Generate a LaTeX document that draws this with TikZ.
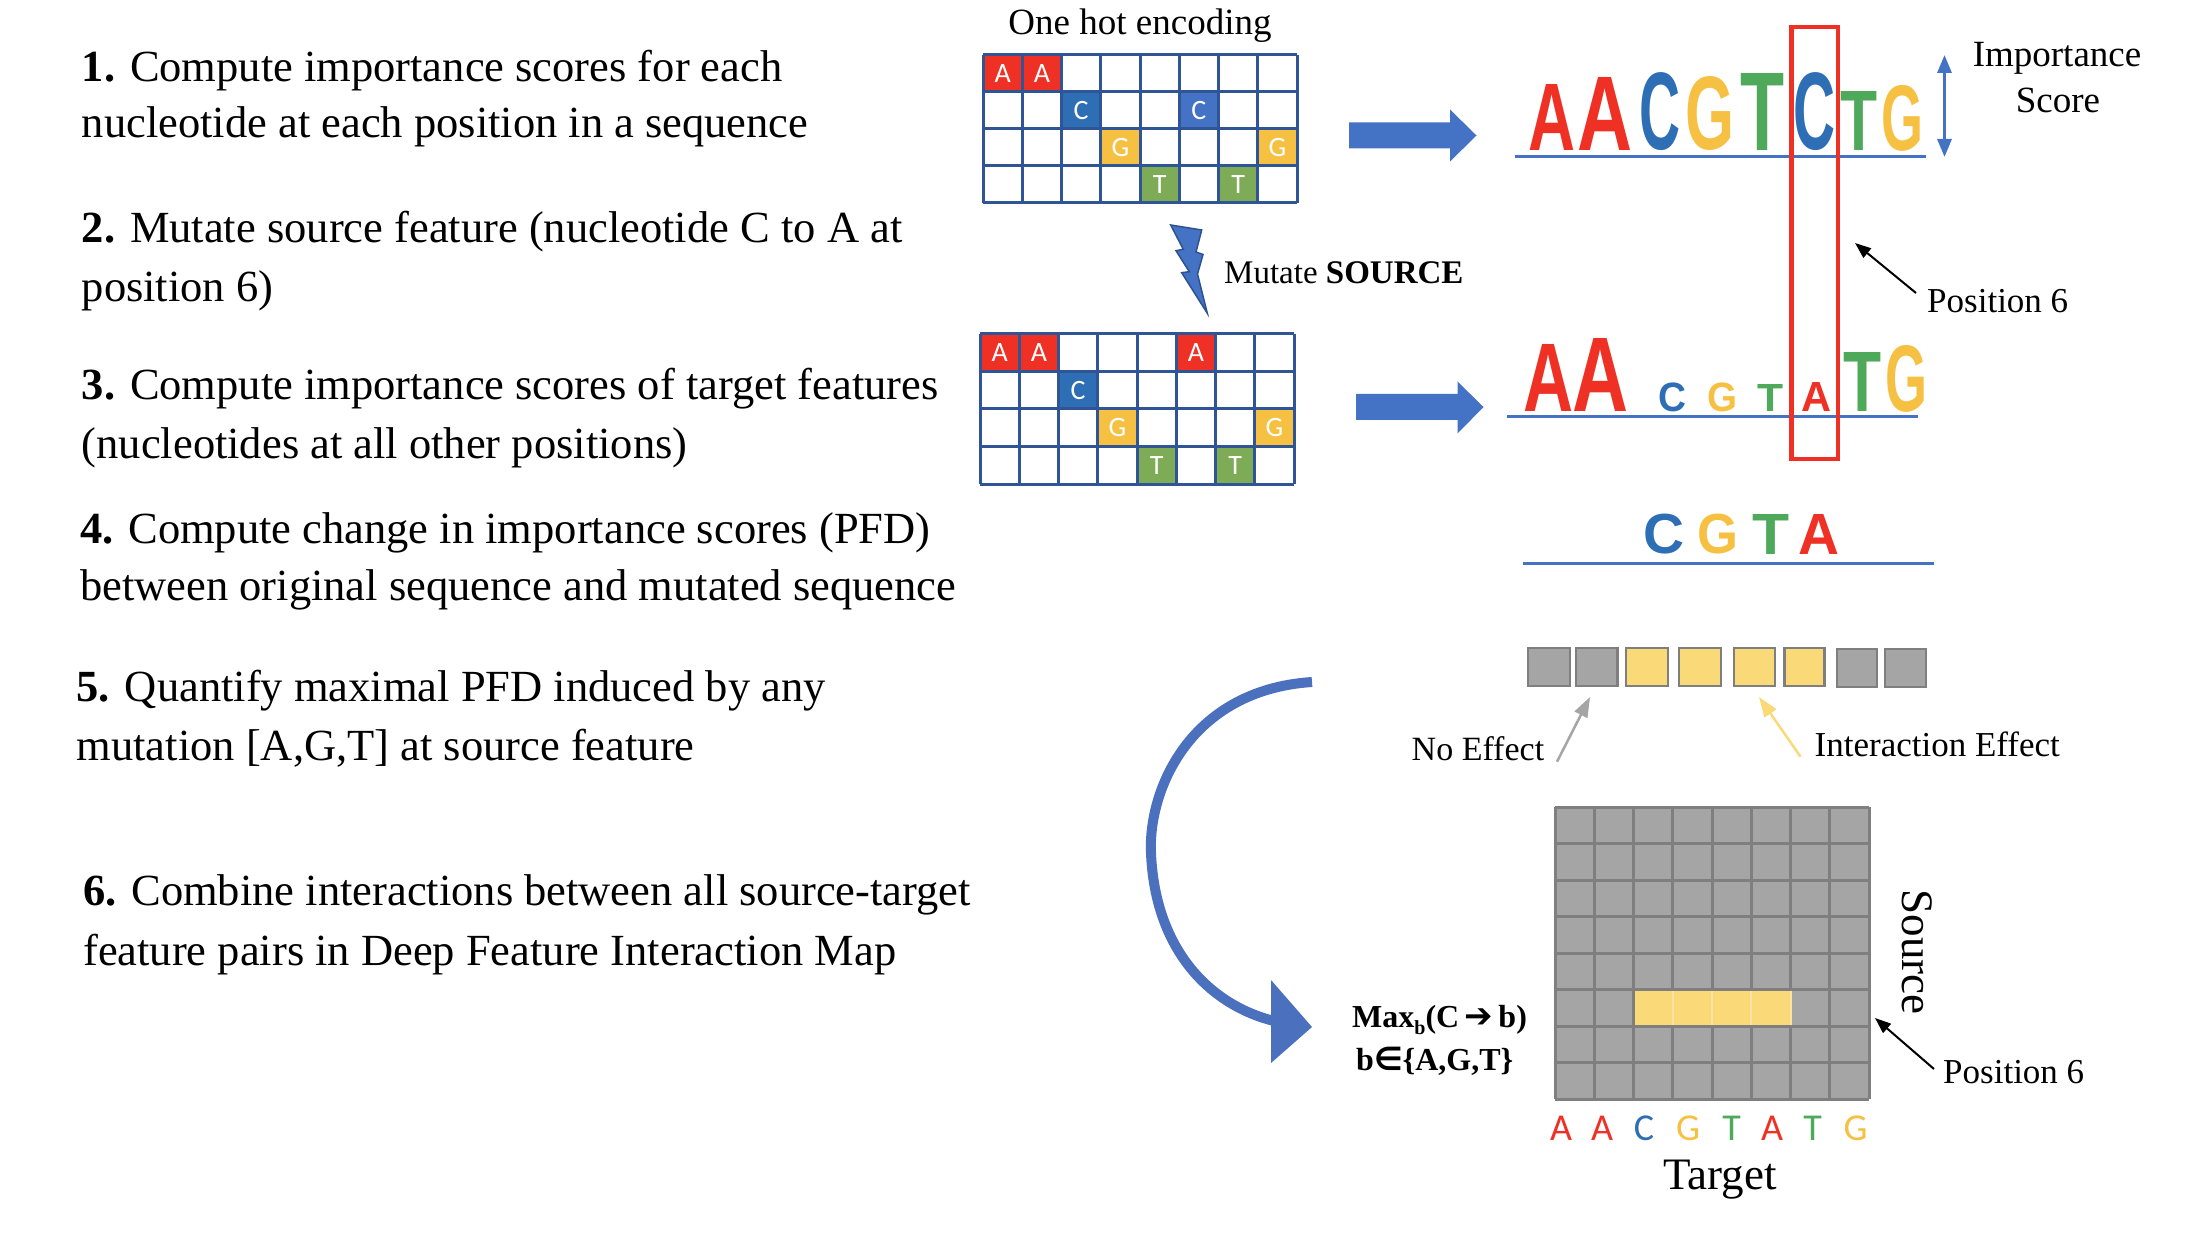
\documentclass[tikz,border=0pt]{standalone}
\usepackage{fontspec}
\usepackage{graphicx}
\setmainfont{Liberation Serif}
\newfontfamily\logofont{Liberation Sans}
\newfontfamily\cellfont{Carlito}
\newfontfamily\symfont{DejaVu Sans}
\usetikzlibrary{arrows.meta}
\definecolor{nA}{HTML}{EE3124}
\definecolor{nC}{HTML}{2E6EB5}
\definecolor{nCb}{HTML}{4472C4}
\definecolor{nG}{HTML}{F6C142}
\definecolor{nT}{HTML}{4EAA5A}
\definecolor{cT}{HTML}{7EAB55}
\definecolor{gridblue}{HTML}{2F5597}
\definecolor{arrowblue}{HTML}{4A70BE}
\definecolor{boltdark}{HTML}{2F528F}
\definecolor{heatgray}{HTML}{A5A5A5}
\definecolor{heatline}{HTML}{7F7F7F}
\definecolor{heatyellow}{HTML}{F9D978}
\definecolor{redbox}{HTML}{EE3124}
\newcommand\lgl[7]{\node[inner sep=0pt,outer sep=0pt,anchor=south west,text=#2] (#1) at (#4,#7) {\resizebox*{\dimexpr #5pt-#4pt\relax}{\dimexpr #7pt-#6pt\relax}{\logofont\bfseries #3}};}
\newcommand\ohcell[9]{\fill[#8] ({#2+(#6-1)*#4},{#3+(#7-1)*#5}) rectangle ({#2+#6*#4},{#3+#7*#5});
\node[cellletter] (#1) at ({#2+(#6-0.5)*#4},{#3+(#7-0.5)*#5}) {#9};}
\tikzset{
  cellletter/.style={inner sep=0pt,text=white,font=\cellfont\fontsize{28}{30}\selectfont},
  gl/.style={draw=gridblue,line width=3},
  hl/.style={draw=heatline,line width=3},
  lefttxt/.style={inner sep=0pt,anchor=base west,font=\fontsize{44.5}{57}\selectfont},
  smalltxt/.style={inner sep=0pt,font=\fontsize{35}{40}\selectfont},
  logoline/.style={draw=nCb,line width=3},
  ptr/.style={draw=black,line width=2,-{Triangle[length=16pt,width=12pt]}},
  blockarrow/.style={fill=nCb},
  botletter/.style={inner sep=0pt,anchor=base,font=\cellfont\fontsize{38}{40}\selectfont},
  stripbox/.style={draw=heatline,line width=2.5},
}
\begin{document}
\begin{tikzpicture}[x=1pt,y=-1pt]
\useasboundingbox (0,0) rectangle (2212,1238);
\fill[white] (0,0) rectangle (2212,1238);

% ---------- left column text ----------
\node[lefttxt] (t1a) at (81.6,81.7) {\textbf{1.} Compute importance scores for each};
\node[lefttxt] (t1b) at (81.6,138) {nucleotide at each position in a sequence};
\node[lefttxt] (t2a) at (81.6,243) {\textbf{2.} Mutate source feature (nucleotide C to A at};
\node[lefttxt] (t2b) at (81.6,301.7) {position 6)};
\node[lefttxt] (t3a) at (81.6,400) {\textbf{3.} Compute importance scores of target features};
\node[lefttxt] (t3b) at (81.6,458) {(nucleotides at all other positions)};
\node[lefttxt] (t4a) at (80,543) {\textbf{4.} Compute change in importance scores (PFD)};
\node[lefttxt] (t4b) at (80,600) {between original sequence and mutated sequence};
\node[lefttxt] (t5a) at (76.5,701.7) {\textbf{5.} Quantify maximal PFD induced by any};
\node[lefttxt] (t5b) at (76.5,760) {mutation [A,G,T] at source feature};
\node[lefttxt] (t6a) at (83,905) {\textbf{6.} Combine interactions between all source-target};
\node[lefttxt] (t6b) at (83,965) {feature pairs in Deep Feature Interaction Map};

% ---------- one hot grid 1 ----------
\node[smalltxt,anchor=base,font=\fontsize{37}{40}\selectfont] (onehot) at (1140,35) {One hot encoding};
\ohcell{g1a1}{983}{55}{39.25}{37}{1}{1}{nA}{A}
\ohcell{g1a2}{983}{55}{39.25}{37}{2}{1}{nA}{A}
\ohcell{g1c3}{983}{55}{39.25}{37}{3}{2}{nC}{C}
\ohcell{g1c6}{983}{55}{39.25}{37}{6}{2}{nCb}{C}
\ohcell{g1g4}{983}{55}{39.25}{37}{4}{3}{nG}{G}
\ohcell{g1g8}{983}{55}{39.25}{37}{8}{3}{nG}{G}
\ohcell{g1t5}{983}{55}{39.25}{37}{5}{4}{cT}{T}
\ohcell{g1t7}{983}{55}{39.25}{37}{7}{4}{cT}{T}
\foreach \i in {0,...,8} \draw[gl] ({983+\i*39.25},55) -- ({983+\i*39.25},203);
\foreach \j in {0,...,4} \draw[gl] (983,{55+\j*37}) -- (1297,{55+\j*37});

% ---------- one hot grid 2 ----------
\ohcell{g2a1}{980}{334}{39.25}{37.5}{1}{1}{nA}{A}
\ohcell{g2a2}{980}{334}{39.25}{37.5}{2}{1}{nA}{A}
\ohcell{g2a6}{980}{334}{39.25}{37.5}{6}{1}{nA}{A}
\ohcell{g2c3}{980}{334}{39.25}{37.5}{3}{2}{nC}{C}
\ohcell{g2g4}{980}{334}{39.25}{37.5}{4}{3}{nG}{G}
\ohcell{g2g8}{980}{334}{39.25}{37.5}{8}{3}{nG}{G}
\ohcell{g2t5}{980}{334}{39.25}{37.5}{5}{4}{cT}{T}
\ohcell{g2t7}{980}{334}{39.25}{37.5}{7}{4}{cT}{T}
\foreach \i in {0,...,8} \draw[gl] ({980+\i*39.25},334) -- ({980+\i*39.25},484);
\foreach \j in {0,...,4} \draw[gl] (980,{334+\j*37.5}) -- (1294,{334+\j*37.5});

% ---------- lightning bolt ----------
\filldraw[fill=nCb,draw=boltdark,line width=1.5,line join=miter]
  (1170.7,225) -- (1201.7,230) -- (1196,252) -- (1203,254.5) -- (1197.5,274) -- (1207.3,313.3)
  -- (1181.7,272.7) -- (1189.3,271.7) -- (1176,250.7) -- (1183.3,249.3) -- cycle;
\node[smalltxt,anchor=base west,font=\fontsize{33}{36}\selectfont] (mutate) at (1224,283.5) {Mutate \textbf{SOURCE}};

% ---------- block arrows ----------
\fill[blockarrow] (1349,122.5) -- (1450,122.5) -- (1450,109.5) -- (1476.5,135.5) -- (1450,161.5) -- (1450,148.5) -- (1349,148.5) -- cycle;
\fill[blockarrow] (1356,394) -- (1457.5,394) -- (1457.5,381.5) -- (1483.5,407) -- (1457.5,433.5) -- (1457.5,420) -- (1356,420) -- cycle;

% ---------- logo 1 ----------
\lgl{l1a}{nA}{A}{1528}{1575}{85}{151}
\lgl{l1b}{nA}{A}{1577}{1632}{78}{151}
\lgl{l1c}{nC}{C}{1639}{1680}{73}{151}
\lgl{l1d}{nG}{G}{1685}{1734}{77}{151}
\lgl{l1e}{nT}{T}{1740}{1784}{74}{151}
\lgl{l1f}{nC}{C}{1793}{1835}{73}{151}
\lgl{l1g}{nT}{T}{1840}{1877}{92}{151}
\lgl{l1h}{nG}{G}{1881}{1923}{85}{151}
\draw[logoline] (1515,157) -- (1926,157);

% importance score arrow
\coordinate (impTop) at (1944.5,55);
\coordinate (impBot) at (1944.5,157);
\draw[draw=nCb,line width=3,{Triangle[length=18pt,width=14pt]}-{Triangle[length=18pt,width=14pt]}] (impTop) -- (impBot);
\node[smalltxt,anchor=base,font=\fontsize{37}{40}\selectfont] (imp1) at (2057,66.7) {Importance};
\node[smalltxt,anchor=base,font=\fontsize{37}{40}\selectfont] (imp2) at (2058,113) {Score};

% ---------- logo 2 ----------
\lgl{l2a}{nA}{A}{1523}{1573}{345}{412}
\lgl{l2b}{nA}{A}{1572}{1628}{339}{412}
\lgl{l2c}{nC}{C}{1658}{1686}{383}{412}
\lgl{l2d}{nG}{G}{1707}{1737}{383}{412}
\lgl{l2e}{nT}{T}{1757}{1783}{385}{412}
\lgl{l2f}{nA}{A}{1801}{1831}{383}{412}
\lgl{l2g}{nT}{T}{1843}{1881}{353}{412}
\lgl{l2h}{nG}{G}{1885}{1927}{345}{412}
\draw[logoline] (1507,417) -- (1918,417);

% red position box
\draw[draw=redbox,line width=4.5] (1791.5,27) rectangle (1838,459);

% position 6 (upper)
\node[smalltxt,anchor=base west] (pos1) at (1927,313) {Position 6};
\coordinate (pos1tip) at (1855,243);
\draw[ptr] (1916,293) -- (pos1tip);

% ---------- logo 3 ----------
\lgl{l3a}{nC}{C}{1643}{1684}{514}{554}
\lgl{l3b}{nG}{G}{1697}{1738}{514}{554}
\lgl{l3c}{nT}{T}{1752}{1789}{514}{554}
\lgl{l3d}{nA}{A}{1798}{1839}{514}{554}
\draw[logoline] (1523,563) -- (1934,563);

% ---------- strip of boxes ----------
\filldraw[stripbox,fill=heatgray] (1528,648) rectangle (1570,686);
\filldraw[stripbox,fill=heatgray] (1576,648) rectangle (1617.5,686);
\filldraw[stripbox,fill=heatyellow] (1626,648) rectangle (1668,686);
\filldraw[stripbox,fill=heatyellow] (1679,648) rectangle (1721,686);
\filldraw[stripbox,fill=heatyellow] (1734,648) rectangle (1775,686);
\filldraw[stripbox,fill=heatyellow] (1784.6,648) rectangle (1824.7,686);
\filldraw[stripbox,fill=heatgray] (1837,649) rectangle (1877,687);
\filldraw[stripbox,fill=heatgray] (1885,649) rectangle (1926,687);

\node[smalltxt,anchor=base west,font=\fontsize{34}{38}\selectfont] (noeff) at (1411.5,760) {No Effect};
\node[smalltxt,anchor=base west] (inteff) at (1814.5,756) {Interaction Effect};
\coordinate (noefftip) at (1590,697);
\coordinate (intefftip) at (1759,697);
\draw[draw=heatgray,line width=2.5,-{Triangle[length=20pt,width=14pt]}] (1557,761.7) -- (noefftip);
\draw[draw=heatyellow,line width=2.5,-{Triangle[length=20pt,width=14pt]}] (1800.5,756.7) -- (intefftip);

% ---------- curved arrow ----------
\draw[draw=arrowblue,line width=10] (1312,682) .. controls (1190,690) and (1148,790) .. (1151,853)
   .. controls (1155,950) and (1210,1005) .. (1274,1021);
\fill[arrowblue] (1271,980) -- (1312,1027) -- (1271,1063) -- cycle;

\node[inner sep=0pt,anchor=base west,font=\bfseries\fontsize{32}{36}\selectfont] (maxb) at (1352,1027) {Max\raisebox{-7pt}{\fontsize{20}{22}\selectfont b}(C\,{\symfont\fontsize{34}{36}\selectfont ➔}\,b)};
\node[inner sep=0pt,anchor=base west,font=\bfseries\fontsize{32}{36}\selectfont] (bin) at (1356,1070) {b{\symfont\fontsize{32}{36}\selectfont ∈}\{A,G,T\}};

% ---------- heatmap ----------
\fill[heatgray] (1555,807) rectangle (1869,1099);
\foreach \c in {3,4,5,6} \filldraw[fill=heatyellow,draw=heatyellow!70!white,line width=2] ({1555+(\c-1)*39.25},{807+5*36.5}) rectangle ({1555+\c*39.25},{807+6*36.5});
\foreach \i in {0,1,2,8} \draw[hl] ({1555+\i*39.25},807) -- ({1555+\i*39.25},1099);
\foreach \i in {3,4,5,6,7} {\draw[hl] ({1555+\i*39.25},807) -- ({1555+\i*39.25},{807+5*36.5});
  \draw[hl] ({1555+\i*39.25},{807+6*36.5}) -- ({1555+\i*39.25},1099);}
\draw[hl] ({1555+7*39.25},{807+5*36.5}) -- ({1555+7*39.25},{807+6*36.5});
\foreach \j in {0,...,8} \draw[hl] (1555,{807+\j*36.5}) -- (1869,{807+\j*36.5});

\node[inner sep=0pt,anchor=base,rotate=-90,font=\fontsize{45}{50}\selectfont] (source) at (1902,952) {Source};
\node[inner sep=0pt,anchor=base,font=\fontsize{45}{50}\selectfont] (target) at (1720,1189) {Target};

\node[botletter,text=nA] (b1) at (1561,1140) {A};
\node[botletter,text=nA] (b2) at (1602,1140) {A};
\node[botletter,text=nC] (b3) at (1644,1140) {C};
\node[botletter,text=nG] (b4) at (1688,1140) {G};
\node[botletter,text=nT] (b5) at (1731.6,1140) {T};
\node[botletter,text=nA] (b6) at (1772,1140) {A};
\node[botletter,text=nT] (b7) at (1812.5,1140) {T};
\node[botletter,text=nG] (b8) at (1855.5,1140) {G};

\node[smalltxt,anchor=base west] (pos2) at (1943,1083) {Position 6};
\coordinate (pos2tip) at (1875,1018);
\draw[ptr] (1934,1069) -- (pos2tip);
\end{tikzpicture}
\end{document}
